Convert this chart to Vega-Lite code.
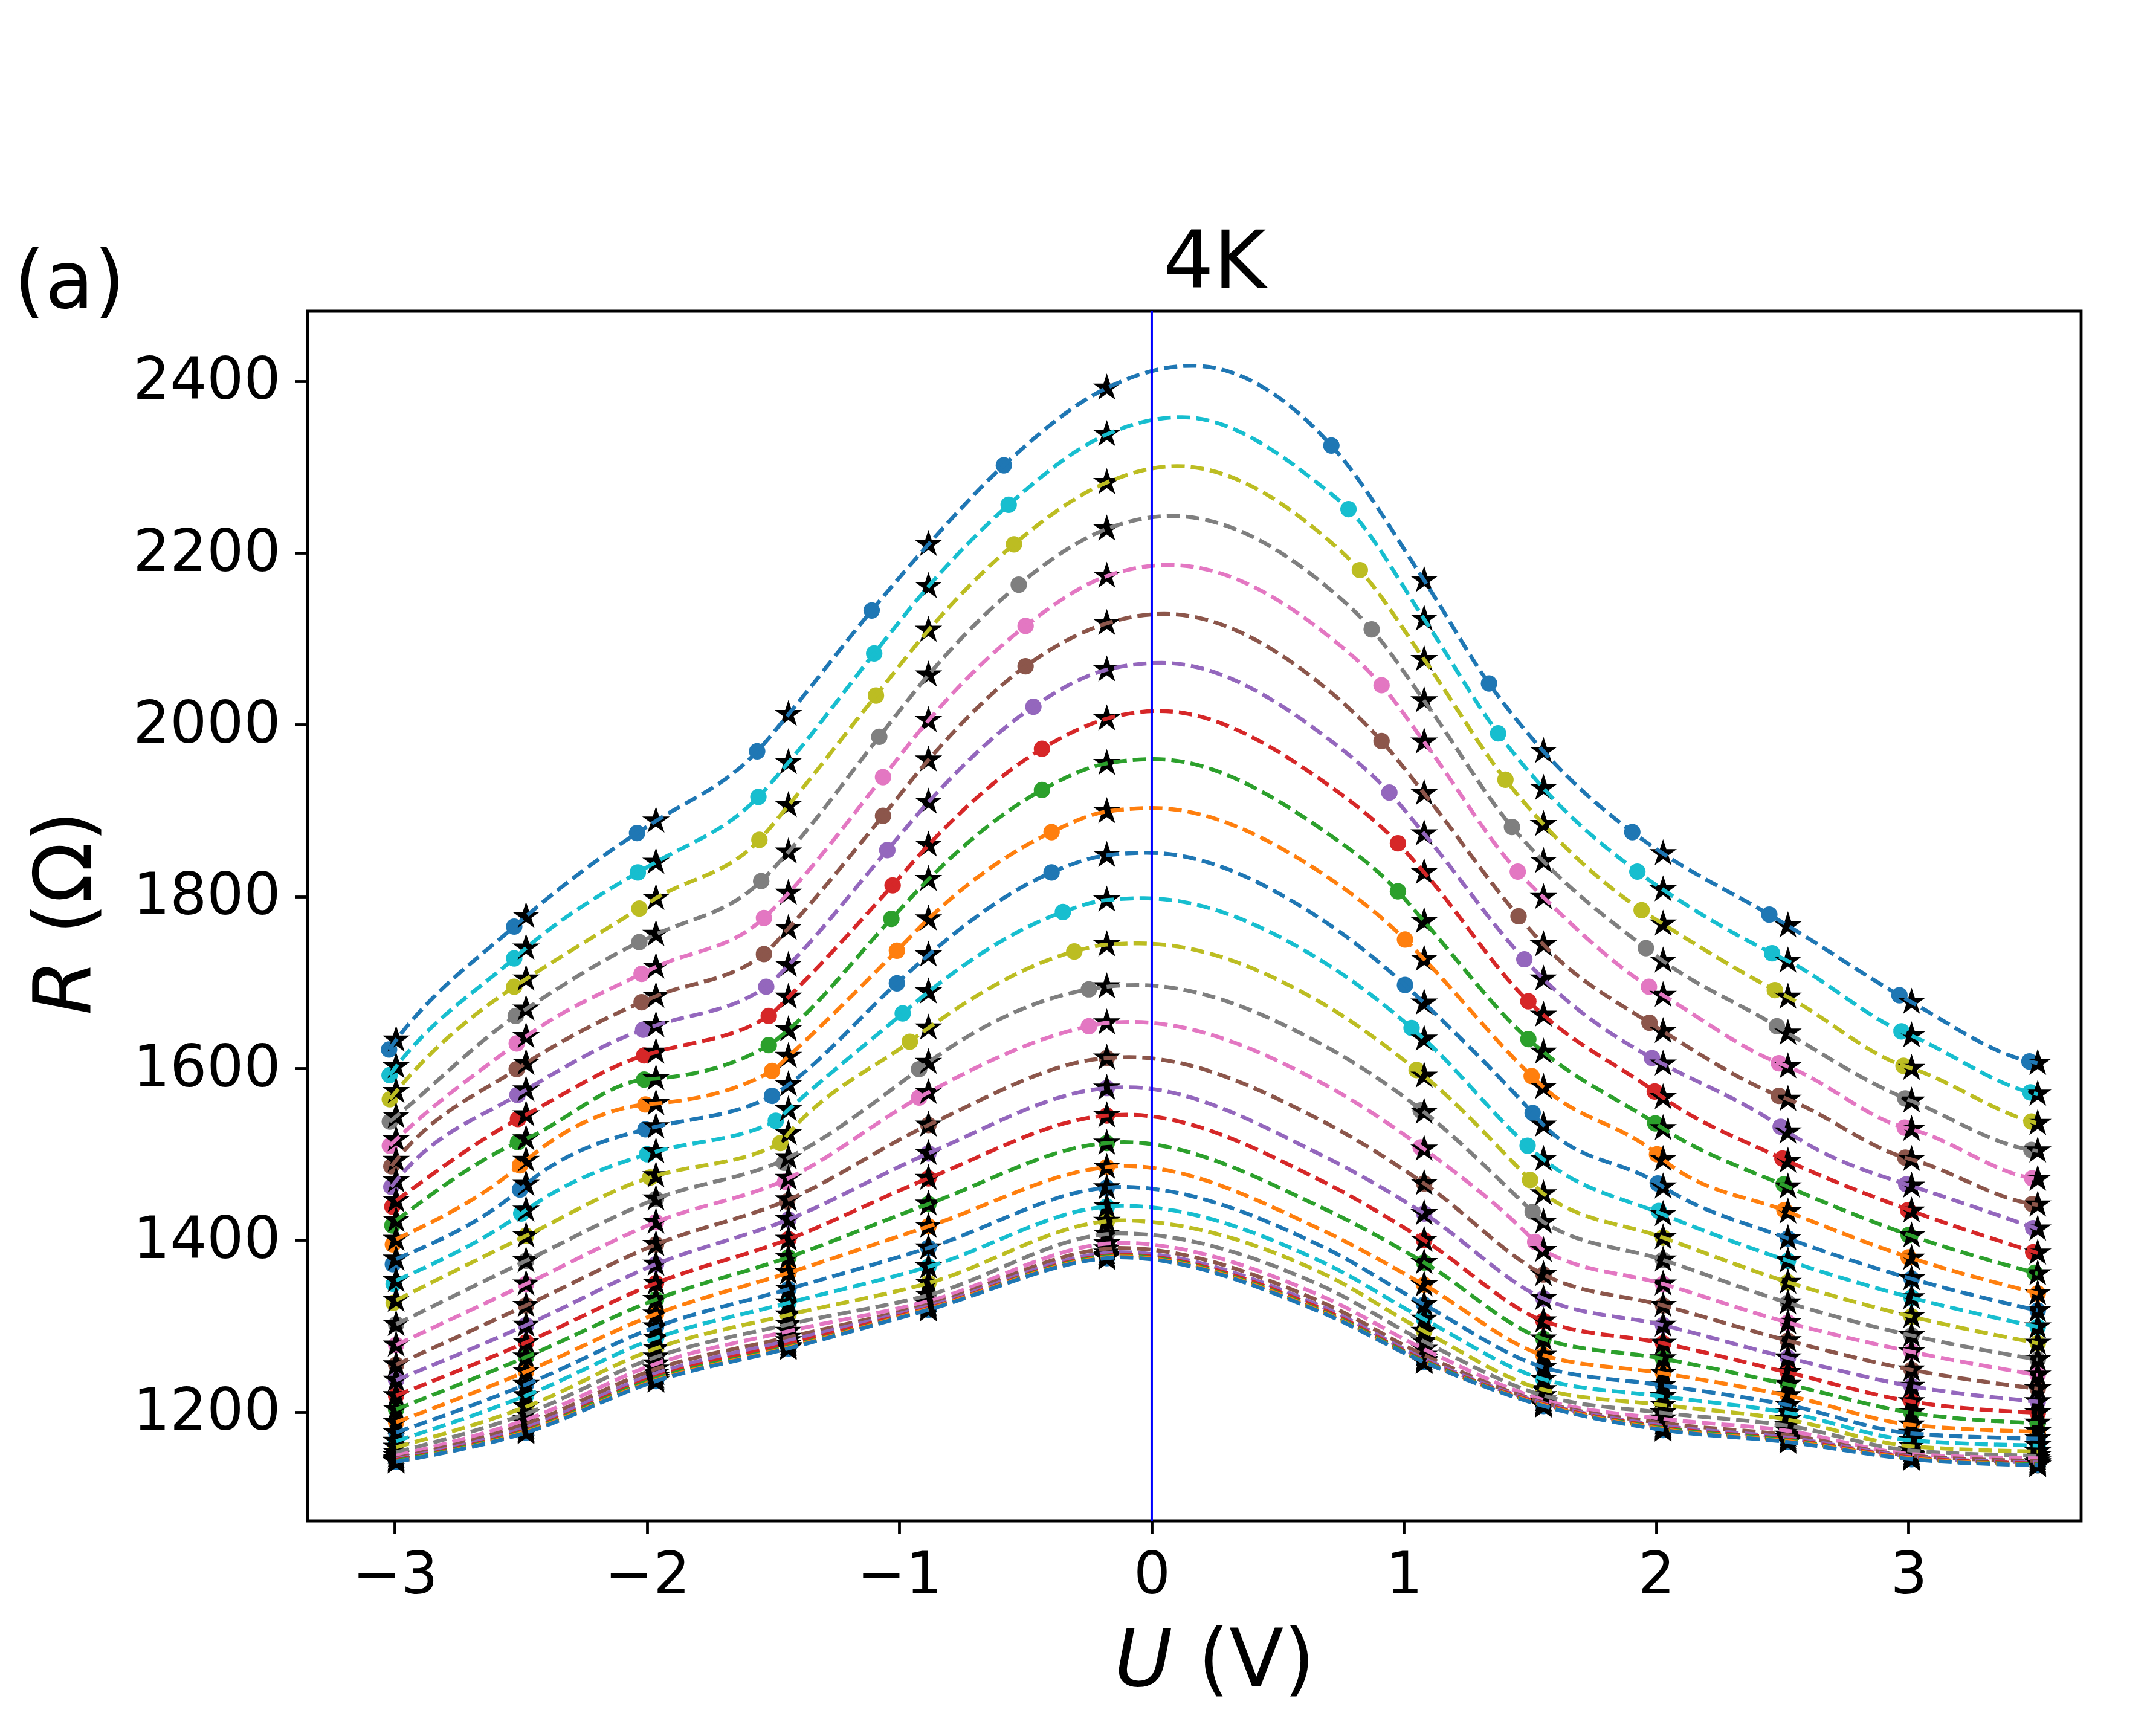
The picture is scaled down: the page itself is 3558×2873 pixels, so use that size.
{
"$schema": "https://vega.github.io/schema/vega-lite/v6.json",
"autosize": {"type": "none"},
"width": 2935, "height": 2002,
"padding": {"left": 509, "top": 515, "right": 114, "bottom": 356},
"background": "white",
"config": {
 "view": {"stroke": "black", "strokeWidth": 4.8, "fill": "white"},
 "axis": {"grid": false, "domain": false, "tickColor": "black", "tickSize": 21, "tickWidth": 4.8, "labelColor": "black", "labelFont": "DejaVu Sans", "labelFontSize": 96, "labelLimit": 0},
 "axisX": {"labelPadding": 22},
 "axisY": {"labelPadding": 24}
},
"datasets": {"c": [
{"k":0,"su":[-2.995,-2.48,-1.965,-1.44,-0.885,-0.178,1.08,1.553,2.027,2.522,3.012,3.512],"sr":[1633,1777,1888,2012,2210,2392,2168,1969,1850,1766,1677,1606],
 "du":[-3.023,-2.527,-2.04,-1.564,-1.11,-0.586,0.712,1.337,1.905,2.448,2.964,3.479],"dr":[1622,1765,1874,1969,2133,2302,2325,2048,1875,1779,1685,1608],
 "lu":[-3.023,-2.995,-2.527,-2.48,-2.04,-1.965,-1.564,-1.44,-1.11,-0.885,-0.586,-0.178,0.16,0.712,1.08,1.337,1.553,1.905,2.027,2.448,2.522,2.964,3.012,3.479,3.512],
 "lr":[1622,1633,1765,1777,1874,1888,1969,2012,2133,2210,2302,2392,2418,2325,2168,2048,1969,1875,1850,1779,1766,1685,1677,1608,1606]},
{"k":1,"su":[-2.995,-2.48,-1.965,-1.44,-0.885,-0.178,1.08,1.553,2.027,2.522,3.012,3.512],"sr":[1602,1740,1840,1956,2161,2338,2123,1926,1808,1725,1638,1570],
 "du":[-3.021,-2.527,-2.037,-1.559,-1.1,-0.567,0.78,1.373,1.925,2.459,2.972,3.483],"dr":[1592,1728,1828,1916,2083,2256,2251,1990,1829,1734,1643,1572],
 "lu":[-3.021,-2.995,-2.527,-2.48,-2.037,-1.965,-1.559,-1.44,-1.1,-0.885,-0.567,-0.178,0.12,0.68,0.78,1.08,1.373,1.553,1.925,2.027,2.459,2.522,2.972,3.012,3.483,3.512],
 "lr":[1592,1602,1728,1740,1828,1840,1916,1956,2083,2161,2256,2338,2358,2276,2251,2123,1990,1926,1829,1808,1734,1725,1643,1638,1572,1570]},
{"k":2,"su":[-2.995,-2.48,-1.965,-1.44,-0.885,-0.178,1.08,1.553,2.027,2.522,3.012,3.512],"sr":[1573,1704,1798,1906,2110,2282,2076,1884,1768,1683,1600,1536],
 "du":[-3.02,-2.527,-2.031,-1.555,-1.093,-0.546,0.825,1.402,1.942,2.47,2.98,3.487],"dr":[1564,1695,1786,1866,2034,2210,2180,1936,1784,1691,1603,1538],
 "lu":[-3.02,-2.995,-2.527,-2.48,-2.031,-1.965,-1.555,-1.44,-1.093,-0.885,-0.546,-0.178,0.1,0.68,0.825,1.08,1.402,1.553,1.942,2.027,2.47,2.522,2.98,3.012,3.487,3.512],
 "lr":[1564,1573,1695,1704,1786,1798,1866,1906,2034,2110,2210,2282,2301,2220,2180,2076,1936,1884,1784,1768,1691,1683,1603,1600,1538,1536]},
{"k":3,"su":[-2.995,-2.48,-1.965,-1.44,-0.885,-0.178,1.08,1.553,2.027,2.522,3.012,3.512],"sr":[1544,1669,1756,1852,2058,2228,2028,1841,1725,1641,1562,1504],
 "du":[-3.02,-2.521,-2.031,-1.548,-1.08,-0.527,0.872,1.428,1.959,2.478,2.987,3.487],"dr":[1538,1661,1747,1818,1986,2163,2111,1881,1740,1649,1565,1505],
 "lu":[-3.02,-2.995,-2.521,-2.48,-2.031,-1.965,-1.548,-1.44,-1.08,-0.885,-0.527,-0.178,0.08,0.68,0.872,1.08,1.428,1.553,1.959,2.027,2.478,2.522,2.987,3.012,3.487,3.512],
 "lr":[1538,1544,1661,1669,1747,1756,1818,1852,1986,2058,2163,2228,2243,2164,2111,2028,1881,1841,1740,1725,1649,1641,1565,1562,1505,1504]},
{"k":4,"su":[-2.995,-2.48,-1.965,-1.44,-0.885,-0.178,1.08,1.553,2.027,2.522,3.012,3.512],"sr":[1517,1637,1718,1804,2005,2173,1980,1799,1685,1602,1529,1471],
 "du":[-3.02,-2.517,-2.022,-1.537,-1.065,-0.5,0.911,1.451,1.971,2.486,2.985,3.49],"dr":[1510,1629,1710,1775,1939,2115,2046,1829,1695,1606,1531,1472],
 "lu":[-3.02,-2.995,-2.517,-2.48,-2.022,-1.965,-1.537,-1.44,-1.065,-0.885,-0.5,-0.178,0.07,0.68,0.911,1.08,1.451,1.553,1.971,2.027,2.486,2.522,2.985,3.012,3.49,3.512],
 "lr":[1510,1517,1629,1637,1710,1718,1775,1804,1939,2005,2115,2173,2186,2108,2046,1980,1829,1799,1695,1685,1606,1602,1531,1529,1472,1471]},
{"k":5,"su":[-2.995,-2.48,-1.965,-1.44,-0.885,-0.178,1.08,1.553,2.027,2.522,3.012,3.512],"sr":[1493,1606,1684,1763,1959,2118,1920,1744,1643,1564,1494,1441],
 "du":[-3.014,-2.517,-2.022,-1.537,-1.065,-0.5,0.911,1.454,1.973,2.486,2.987,3.49],"dr":[1486,1599,1677,1733,1894,2068,1981,1777,1653,1568,1496,1442],
 "lu":[-3.014,-2.995,-2.517,-2.48,-2.022,-1.965,-1.537,-1.44,-1.065,-0.885,-0.5,-0.178,0.05,0.68,0.911,1.08,1.454,1.553,1.973,2.027,2.486,2.522,2.987,3.012,3.49,3.512],
 "lr":[1486,1493,1599,1606,1677,1684,1733,1763,1894,1959,2068,2118,2129,2045,1981,1920,1777,1744,1653,1643,1568,1564,1496,1494,1442,1441]},
{"k":6,"su":[-2.995,-2.48,-1.965,-1.44,-0.885,-0.178,1.08,1.553,2.027,2.522,3.012,3.512],"sr":[1469,1575,1650,1720,1910,2064,1873,1704,1605,1526,1463,1413],
 "du":[-3.014,-2.514,-2.016,-1.528,-1.048,-0.469,0.942,1.477,1.983,2.493,2.991,3.494],"dr":[1462,1569,1645,1695,1854,2021,1921,1727,1612,1532,1465,1414],
 "lu":[-3.014,-2.995,-2.514,-2.48,-2.016,-1.965,-1.528,-1.44,-1.048,-0.885,-0.469,-0.178,0.04,0.68,0.942,1.08,1.477,1.553,1.983,2.027,2.493,2.522,2.991,3.012,3.512],
 "lr":[1462,1469,1569,1575,1645,1650,1695,1720,1854,1910,2021,2064,2072,1988,1921,1873,1727,1704,1612,1605,1532,1526,1465,1463,1413]},
{"k":7,"su":[-2.995,-2.48,-1.965,-1.44,-0.885,-0.178,1.08,1.553,2.027,2.522,3.012,3.512],"sr":[1446,1546,1619,1683,1860,2007,1828,1662,1566,1492,1434,1385],
 "du":[-3.01,-2.512,-2.012,-1.518,-1.027,-0.435,0.976,1.493,1.994,2.5,2.998,3.494],"dr":[1439,1541,1615,1661,1813,1972,1862,1678,1573,1495,1435,1386],
 "lu":[-2.995,-2.512,-2.48,-2.012,-1.965,-1.518,-1.44,-1.027,-0.885,-0.435,-0.178,0.03,0.68,0.976,1.08,1.493,1.553,1.994,2.027,2.5,2.522,3.012,3.512],
 "lr":[1446,1541,1546,1615,1619,1661,1683,1813,1860,1972,2007,2016,1934,1862,1828,1678,1662,1573,1566,1495,1492,1434,1385]},
{"k":8,"su":[-2.995,-2.48,-1.965,-1.44,-0.885,-0.178,1.08,1.553,2.027,2.522,3.012,3.512],"sr":[1423,1518,1588,1645,1820,1955,1771,1619,1530,1462,1405,1361],
 "du":[-3.01,-2.512,-2.012,-1.518,-1.032,-0.435,0.976,1.493,1.996,2.505,3.0,3.5],"dr":[1417,1514,1587,1627,1774,1924,1806,1634,1536,1465,1406,1362],
 "lu":[-2.995,-2.512,-2.48,-2.012,-1.965,-1.518,-1.44,-1.032,-0.885,-0.435,-0.178,0.01,0.68,0.976,1.08,1.493,1.553,1.996,2.027,2.522,3.012,3.512],
 "lr":[1423,1514,1518,1587,1588,1627,1645,1774,1820,1924,1955,1960,1877,1806,1771,1634,1619,1536,1530,1462,1405,1361]},
{"k":9,"su":[-2.995,-2.48,-1.965,-1.44,-0.885,-0.178,1.08,1.553,2.027,2.522,3.012,3.512],"sr":[1401,1493,1559,1614,1774,1899,1727,1578,1494,1433,1379,1338],
 "du":[-3.008,-2.504,-2.007,-1.505,-1.01,-0.397,1.004,1.506,2.003,2.508,3.0,3.512],"dr":[1395,1487,1558,1597,1737,1875,1750,1591,1500,1435,1380,1338],
 "lu":[-2.995,-2.504,-2.48,-2.007,-1.965,-1.505,-1.44,-1.01,-0.885,-0.397,-0.178,0.0,0.68,1.004,1.08,1.506,1.553,2.003,2.027,2.522,3.012,3.512],
 "lr":[1401,1487,1493,1558,1559,1597,1614,1737,1774,1875,1899,1903,1826,1750,1727,1591,1578,1500,1494,1433,1379,1338]},
{"k":10,"su":[-2.995,-2.48,-1.965,-1.44,-0.885,-0.178,1.08,1.553,2.027,2.522,3.012,3.512],"sr":[1378,1465,1532,1581,1732,1848,1676,1534,1462,1402,1355,1318],
 "du":[-3.008,-2.504,-2.007,-1.505,-1.01,-0.397,1.004,1.51,2.006,2.522,3.012,3.512],"dr":[1372,1459,1529,1568,1699,1828,1697,1548,1466,1402,1355,1318],
 "lu":[-2.995,-2.504,-2.48,-2.007,-1.965,-1.505,-1.44,-1.01,-0.885,-0.397,-0.178,-0.02,0.68,1.004,1.08,1.51,1.553,2.006,2.027,2.522,3.012,3.512],
 "lr":[1378,1459,1465,1529,1532,1568,1581,1699,1732,1828,1848,1851,1772,1697,1676,1548,1534,1466,1462,1402,1355,1318]},
{"k":11,"su":[-2.995,-2.48,-1.965,-1.44,-0.885,-0.178,1.08,1.553,2.027,2.522,3.012,3.512],"sr":[1353,1435,1503,1552,1689,1796,1634,1494,1430,1376,1333,1299],
 "du":[-3.005,-2.499,-2.0,-1.49,-0.987,-0.352,1.03,1.49,2.01,2.522,3.012,3.512],"dr":[1349,1431,1500,1539,1664,1782,1647,1510,1434,1376,1333,1299],
 "lu":[-2.995,-2.499,-2.48,-2.0,-1.965,-1.49,-1.44,-0.987,-0.885,-0.352,-0.178,-0.03,0.68,1.03,1.08,1.49,1.553,2.027,2.522,3.012,3.512],
 "lr":[1353,1431,1435,1500,1503,1539,1552,1664,1689,1782,1796,1798,1724,1647,1634,1510,1494,1430,1376,1333,1299]},
{"k":12,"su":[-2.995,-2.48,-1.965,-1.44,-0.885,-0.178,1.08,1.553,2.027,2.522,3.012,3.512],"sr":[1330,1405,1475,1524,1647,1744,1591,1454,1403,1351,1311,1280],
 "du":[-3.005,-2.48,-1.988,-1.472,-0.959,-0.307,1.05,1.5,2.027,2.522,3.012,3.512],"dr":[1327,1405,1473,1513,1631,1736,1598,1470,1403,1351,1311,1280],
 "lu":[-2.995,-2.48,-1.988,-1.965,-1.472,-1.44,-0.959,-0.885,-0.307,-0.178,-0.05,0.68,1.05,1.08,1.5,1.553,2.027,2.522,3.012,3.512],
 "lr":[1330,1405,1473,1475,1513,1524,1631,1647,1736,1744,1745.5,1675,1598,1591,1470,1454,1403,1351,1311,1280]},
{"k":13,"su":[-2.995,-2.48,-1.965,-1.44,-0.885,-0.178,1.08,1.553,2.027,2.522,3.012,3.512],"sr":[1302,1376,1448,1496,1607,1695,1549,1421,1377,1327,1289,1261],
 "du":[-2.995,-2.48,-1.965,-1.457,-0.922,-0.249,1.066,1.51,2.027,2.522,3.012,3.512],"dr":[1302,1376,1448,1490,1599,1692,1551,1433,1377,1327,1289,1261],
 "lu":[-2.995,-2.48,-1.965,-1.44,-0.922,-0.885,-0.249,-0.178,-0.06,0.68,1.08,1.51,1.553,2.027,2.522,3.012,3.512],
 "lr":[1302,1376,1448,1496,1599,1607,1692,1695,1697,1627,1549,1433,1421,1377,1327,1289,1261]},
{"k":14,"su":[-2.995,-2.48,-1.965,-1.44,-0.885,-0.178,1.08,1.553,2.027,2.522,3.012,3.512],"sr":[1278,1349,1421,1472,1572,1653,1506,1388,1349,1304,1270,1243],
 "du":[-2.995,-2.48,-1.965,-1.453,-0.922,-0.249,1.066,1.52,2.027,2.522,3.012,3.512],"dr":[1278,1349,1421,1468,1566,1649,1508,1398,1349,1304,1270,1243],
 "lu":[-2.995,-2.48,-1.965,-1.44,-0.922,-0.885,-0.249,-0.178,-0.08,0.68,1.08,1.52,1.553,2.027,2.522,3.012,3.512],
 "lr":[1278,1349,1421,1472,1566,1572,1649,1653,1654,1582,1506,1398,1388,1349,1304,1270,1243]},
{"k":15,"su":[-2.995,-2.48,-1.965,-1.44,-0.885,-0.178,1.08,1.553,2.027,2.522,3.012,3.512],"sr":[1255,1324,1395,1447,1534,1612,1466,1360,1324,1283,1249,1227],
 "du":[-2.995,-2.48,-1.965,-1.445,-0.885,-0.178,1.08,1.553,2.027,2.522,3.012,3.512],"dr":[1255,1324,1395,1445,1534,1612,1466,1360,1324,1283,1249,1227],
 "lu":[-2.995,-2.48,-1.965,-1.44,-0.885,-0.178,-0.09,0.68,1.08,1.553,2.027,2.522,3.012,3.512],
 "lr":[1255,1324,1395,1447,1534,1612,1613,1538,1466,1360,1324,1283,1249,1227]},
{"k":16,"su":[-2.995,-2.48,-1.965,-1.44,-0.885,-0.178,1.08,1.553,2.027,2.522,3.012,3.512],"sr":[1237,1301,1372,1424,1501,1577,1431,1332,1301,1263,1230,1212],
 "lu":[-2.995,-2.48,-1.965,-1.44,-0.885,-0.178,-0.1,0.68,1.08,1.553,2.027,2.522,3.012,3.512],
 "lr":[1237,1301,1372,1424,1501,1577,1578,1498,1431,1332,1301,1263,1230,1212]},
{"k":17,"su":[-2.995,-2.48,-1.965,-1.44,-0.885,-0.178,1.08,1.553,2.027,2.522,3.012,3.512],"sr":[1219,1281,1350,1401,1472,1545,1400,1306,1280,1246,1212,1199],
 "lu":[-2.995,-2.48,-1.965,-1.44,-0.885,-0.178,-0.1,0.68,1.08,1.553,2.027,2.522,3.012,3.512],
 "lr":[1219,1281,1350,1401,1472,1545,1546,1468,1400,1306,1280,1246,1212,1199]},
{"k":18,"su":[-2.995,-2.48,-1.965,-1.44,-0.885,-0.178,1.08,1.553,2.027,2.522,3.012,3.512],"sr":[1203,1264,1331,1380,1442,1513,1374,1285,1262,1232,1199,1187],
 "lu":[-2.995,-2.48,-1.965,-1.44,-0.885,-0.178,-0.11,0.68,1.08,1.553,2.027,2.522,3.012,3.512],
 "lr":[1203,1264,1331,1380,1442,1513,1514,1437,1374,1285,1262,1232,1199,1187]},
{"k":19,"su":[-2.995,-2.48,-1.965,-1.44,-0.885,-0.178,1.08,1.553,2.027,2.522,3.012,3.512],"sr":[1188,1247,1314,1362,1416,1485,1348,1266,1245,1219,1185,1177],
 "lu":[-2.995,-2.48,-1.965,-1.44,-0.885,-0.178,-0.11,0.68,1.08,1.553,2.027,2.522,3.012,3.512],
 "lr":[1188,1247,1314,1362,1416,1485,1486.5,1411,1348,1266,1245,1219,1185,1177]},
{"k":20,"su":[-2.995,-2.48,-1.965,-1.44,-0.885,-0.178,1.08,1.553,2.027,2.522,3.012,3.512],"sr":[1176,1232,1299,1343,1391,1461,1325,1252,1231,1208,1175,1169],
 "lu":[-2.995,-2.48,-1.965,-1.44,-0.885,-0.178,-0.12,0.68,1.08,1.553,2.027,2.522,3.012,3.512],
 "lr":[1176,1232,1299,1343,1391,1461,1462,1392,1325,1252,1231,1208,1175,1169]},
{"k":21,"su":[-2.995,-2.48,-1.965,-1.44,-0.885,-0.178,1.08,1.553,2.027,2.522,3.012,3.512],"sr":[1166,1219,1286,1327,1369,1439,1308,1238,1218,1199,1167,1161],
 "lu":[-2.995,-2.48,-1.965,-1.44,-0.885,-0.178,-0.12,0.68,1.08,1.553,2.027,2.522,3.012,3.512],
 "lr":[1166,1219,1286,1327,1369,1439,1440,1374,1308,1238,1218,1199,1167,1161]},
{"k":22,"su":[-2.995,-2.48,-1.965,-1.44,-0.885,-0.178,1.08,1.553,2.027,2.522,3.012,3.512],"sr":[1159,1206,1274,1313,1350,1422,1294,1226,1208,1191,1160,1154],
 "lu":[-2.995,-2.48,-1.965,-1.44,-0.885,-0.178,-0.13,0.68,1.08,1.553,2.027,2.522,3.012,3.512],
 "lr":[1159,1206,1274,1313,1350,1422,1423,1361,1294,1226,1208,1191,1160,1154]},
{"k":23,"su":[-2.995,-2.48,-1.965,-1.44,-0.885,-0.178,1.08,1.553,2.027,2.522,3.012,3.512],"sr":[1153,1198,1264,1302,1336,1407,1282,1219,1199,1184,1155,1149],
 "lu":[-2.995,-2.48,-1.965,-1.44,-0.885,-0.178,-0.13,0.68,1.08,1.553,2.027,2.522,3.012,3.512],
 "lr":[1153,1198,1264,1302,1336,1407,1408,1346,1282,1219,1199,1184,1155,1149]},
{"k":24,"su":[-2.995,-2.48,-1.965,-1.44,-0.885,-0.178,1.08,1.553,2.027,2.522,3.012,3.512],"sr":[1149,1191,1256,1294,1329,1396,1273,1214,1192,1178,1151,1146],
 "lu":[-2.995,-2.48,-1.965,-1.44,-0.885,-0.178,-0.13,0.68,1.08,1.553,2.027,2.522,3.012,3.512],
 "lr":[1149,1191,1256,1294,1329,1396,1397,1334,1273,1214,1192,1178,1151,1146]},
{"k":25,"su":[-2.995,-2.48,-1.965,-1.44,-0.885,-0.178,1.08,1.553,2.027,2.522,3.012,3.512],"sr":[1146,1186,1250,1287,1325,1390,1266,1211,1187,1173,1149,1143],
 "lu":[-2.995,-2.48,-1.965,-1.44,-0.885,-0.178,-0.13,0.68,1.08,1.553,2.027,2.522,3.012,3.512],
 "lr":[1146,1186,1250,1287,1325,1390,1391,1327,1266,1211,1187,1173,1149,1143]},
{"k":26,"su":[-2.995,-2.48,-1.965,-1.44,-0.885,-0.178,1.08,1.553,2.027,2.522,3.012,3.512],"sr":[1145,1182,1245,1283,1323,1385,1262,1210,1184,1170,1148,1141],
 "lu":[-2.995,-2.48,-1.965,-1.44,-0.885,-0.178,-0.13,0.68,1.08,1.553,2.027,2.522,3.012,3.512],
 "lr":[1145,1182,1245,1283,1323,1385,1386,1322,1262,1210,1184,1170,1148,1141]},
{"k":27,"su":[-2.995,-2.48,-1.965,-1.44,-0.885,-0.178,1.08,1.553,2.027,2.522,3.012,3.512],"sr":[1144,1179,1241,1279,1321,1382,1260,1209,1182,1168,1147,1140],
 "lu":[-2.995,-2.48,-1.965,-1.44,-0.885,-0.178,-0.13,0.68,1.08,1.553,2.027,2.522,3.012,3.512],
 "lr":[1144,1179,1241,1279,1321,1382,1383,1319,1260,1209,1182,1168,1147,1140]},
{"k":28,"su":[-2.995,-2.48,-1.965,-1.44,-0.885,-0.178,1.08,1.553,2.027,2.522,3.012,3.512],"sr":[1143,1178,1239,1276,1320,1381,1259,1208,1181,1167,1146,1139],
 "lu":[-2.995,-2.48,-1.965,-1.44,-0.885,-0.178,-0.13,0.68,1.08,1.553,2.027,2.522,3.012,3.512],
 "lr":[1143,1178,1239,1276,1320,1381,1382,1317,1259,1208,1181,1167,1146,1139]},
{"k":29,"su":[-2.995,-2.48,-1.965,-1.44,-0.885,-0.178,1.08,1.553,2.027,2.522,3.012,3.512],"sr":[1142,1177,1237,1275,1320,1380,1258,1208,1180,1166,1146,1138],
 "lu":[-2.995,-2.48,-1.965,-1.44,-0.885,-0.178,-0.13,0.68,1.08,1.553,2.027,2.522,3.012,3.512],
 "lr":[1142,1177,1237,1275,1320,1380,1381,1316,1258,1208,1180,1166,1146,1138]},
{"k":30,"su":[-2.995,-2.48,-1.965,-1.44,-0.885,-0.178,1.08,1.553,2.027,2.522,3.012,3.512],"sr":[1142,1176,1236,1274,1319,1379,1258,1207,1179,1165,1145,1138],
 "lu":[-2.995,-2.48,-1.965,-1.44,-0.885,-0.178,-0.13,0.68,1.08,1.553,2.027,2.522,3.012,3.512],
 "lr":[1142,1176,1236,1274,1319,1379,1380,1315,1258,1207,1179,1165,1145,1138]}
],
"labels": [
 {"g": "c", "t": "4K", "x": 0.249, "y": 2508.5},
 {"g": "l", "t": "(a)", "x": -4.51, "y": 2485.6},
 {"g": "ri", "t": "U", "x": 0.083, "y": 881.2},
 {"g": "ls", "t": "(V)", "x": 0.083, "y": 881.2},
 {"g": "rr", "t": "R", "x": -4.206, "y": 1726.7},
 {"g": "lr", "t": "(Ω)", "x": -4.206, "y": 1726.7}
]},
"layer": [
 {"data": {"name": "c"},
  "transform": [{"filter": "datum.du != null"}, {"flatten": ["du", "dr"], "as": ["u", "r"]}],
  "mark": {"type": "circle", "size": 740, "opacity": 1},
  "encoding": {
   "x": {"field": "u", "type": "quantitative", "scale": {"domain": [-3.346, 3.684], "nice": false, "zero": false},
         "axis": {"values": [-3,-2,-1,0,1,2,3], "format": "d", "title": null, "labelFlush": false, "labelOverlap": false}},
   "y": {"field": "r", "type": "quantitative", "scale": {"domain": [1073.2, 2481.4], "nice": false, "zero": false},
         "axis": {"values": [1200,1400,1600,1800,2000,2200,2400], "format": "d", "title": null, "labelFlush": false, "labelOverlap": false}},
   "color": {"field": "k", "type": "nominal", "legend": null,
     "scale": {"domain": [0,1,2,3,4,5,6,7,8,9,10,11,12,13,14,15,16,17,18,19,20,21,22,23,24,25,26,27,28,29,30],
       "range": ["#1f77b4","#17becf","#bcbd22","#7f7f7f","#e377c2","#8c564b","#9467bd","#d62728","#2ca02c","#ff7f0e","#1f77b4","#17becf","#bcbd22","#7f7f7f","#e377c2","#8c564b","#9467bd","#d62728","#2ca02c","#ff7f0e","#1f77b4","#17becf","#bcbd22","#7f7f7f","#e377c2","#8c564b","#9467bd","#d62728","#2ca02c","#ff7f0e","#1f77b4"]}}
  }},
 {"data": {"name": "c"},
  "transform": [{"filter": "datum.k >= 16"}, {"flatten": ["su", "sr"], "as": ["u", "r"]}],
  "mark": {"type": "circle", "size": 740, "opacity": 1},
  "encoding": {
   "x": {"field": "u", "type": "quantitative"},
   "y": {"field": "r", "type": "quantitative"},
   "color": {"field": "k", "type": "nominal", "legend": null}
  }},
 {"data": {"name": "c"},
  "transform": [{"flatten": ["su", "sr"], "as": ["u", "r"]}],
  "mark": {"type": "point", "shape": "M0,-1L0.2245,-0.309L0.951,-0.309L0.363,0.118L0.588,0.809L0,0.382L-0.588,0.809L-0.363,0.118L-0.951,-0.309L-0.2245,-0.309Z", "filled": true, "color": "black", "size": 2300, "strokeWidth": 0, "opacity": 1},
  "encoding": {
   "x": {"field": "u", "type": "quantitative"},
   "y": {"field": "r", "type": "quantitative"}
  }},
 {"data": {"name": "c"},
  "transform": [{"flatten": ["lu", "lr"], "as": ["u", "r"]}],
  "mark": {"type": "line", "strokeWidth": 6.5, "strokeDash": [22, 10], "interpolate": "monotone"},
  "encoding": {
   "x": {"field": "u", "type": "quantitative"},
   "y": {"field": "r", "type": "quantitative"},
   "color": {"field": "k", "type": "nominal", "legend": null}
  }},
 {"data": {"values": [{}]},
  "mark": {"type": "rule", "color": "#0000ff", "strokeWidth": 4},
  "encoding": {"x": {"datum": 0, "type": "quantitative"}}},
 {"data": {"name": "labels"},
  "transform": [{"filter": "datum.g == 'c'"}],
  "mark": {"type": "text", "fontSize": 132, "font": "DejaVu Sans", "baseline": "alphabetic", "align": "center", "color": "black"},
  "encoding": {"x": {"field": "x", "type": "quantitative"}, "y": {"field": "y", "type": "quantitative"}, "text": {"field": "t"}}},
 {"data": {"name": "labels"},
  "transform": [{"filter": "datum.g == 'l'"}],
  "mark": {"type": "text", "fontSize": 132, "font": "DejaVu Sans", "baseline": "alphabetic", "align": "left", "color": "black"},
  "encoding": {"x": {"field": "x", "type": "quantitative"}, "y": {"field": "y", "type": "quantitative"}, "text": {"field": "t"}}},
 {"data": {"name": "labels"},
  "transform": [{"filter": "datum.g == 'ls'"}],
  "mark": {"type": "text", "fontSize": 132, "font": "DejaVu Sans", "baseline": "alphabetic", "align": "left", "dx": 42, "color": "black"},
  "encoding": {"x": {"field": "x", "type": "quantitative"}, "y": {"field": "y", "type": "quantitative"}, "text": {"field": "t"}}},
 {"data": {"name": "labels"},
  "transform": [{"filter": "datum.g == 'ri'"}],
  "mark": {"type": "text", "fontSize": 132, "font": "DejaVu Sans", "fontStyle": "italic", "baseline": "alphabetic", "align": "right", "color": "black"},
  "encoding": {"x": {"field": "x", "type": "quantitative"}, "y": {"field": "y", "type": "quantitative"}, "text": {"field": "t"}}},
 {"data": {"name": "labels"},
  "transform": [{"filter": "datum.g == 'rr'"}],
  "mark": {"type": "text", "fontSize": 132, "font": "DejaVu Sans", "fontStyle": "italic", "baseline": "alphabetic", "align": "right", "angle": 270, "color": "black"},
  "encoding": {"x": {"field": "x", "type": "quantitative"}, "y": {"field": "y", "type": "quantitative"}, "text": {"field": "t"}}},
 {"data": {"name": "labels"},
  "transform": [{"filter": "datum.g == 'lr'"}],
  "mark": {"type": "text", "fontSize": 132, "font": "DejaVu Sans", "baseline": "alphabetic", "align": "left", "angle": 270, "dx": 42, "color": "black"},
  "encoding": {"x": {"field": "x", "type": "quantitative"}, "y": {"field": "y", "type": "quantitative"}, "text": {"field": "t"}}}
]
}
